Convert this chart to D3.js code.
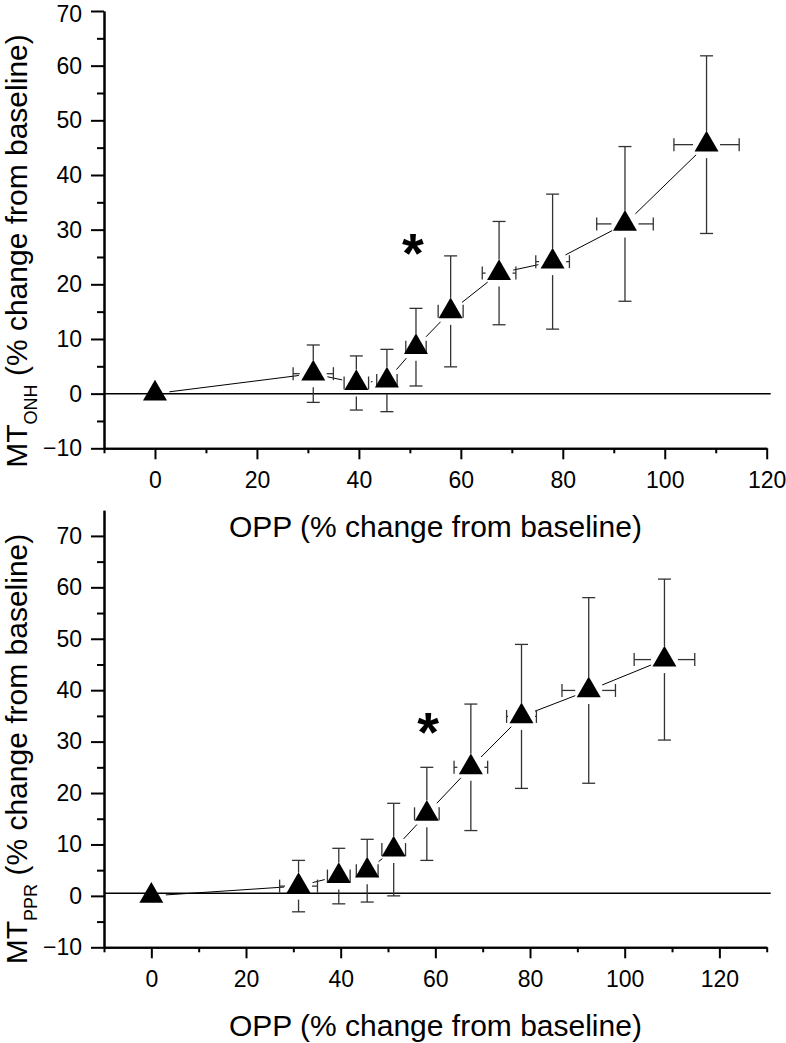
<!DOCTYPE html>
<html><head><meta charset="utf-8">
<script src="https://cdn.jsdelivr.net/npm/d3@7"></script>
<style>
body{margin:0;background:#fff}
svg{display:block}
text{font-family: Arial, "Liberation Sans", sans-serif; fill:#000}
</style>
</head><body><svg id="c" width="786" height="1043"></svg>
<script>
// ---- data ----
const oppTop      = [0, 31.05, 39.5, 45.5, 51.2, 58.0, 67.5, 78.0, 92.2, 108.2];
const oppTopErr   = [0, 3.95, 2.4, 2.0, 2.0, 2.45, 3.3, 3.3, 5.55, 6.4];
const mtOnh       = [0, 3.65, 1.95, 2.4, 8.5, 15.05, 22.05, 24.15, 31.05, 45.55];
const mtOnhErr    = [0, 5.25, 4.95, 5.7, 7.1, 10.15, 9.45, 12.35, 14.15, 16.25];

const oppBottom    = [0, 31.1, 39.6, 45.6, 51.2, 58.2, 67.5, 78.2, 92.4, 108.4];
const oppBottomErr = [0, 4.0, 2.4, 2.3, 2.5, 2.6, 3.55, 3.15, 5.65, 6.4];
const mtPpr        = [0, 1.9, 3.85, 4.9, 9.0, 15.95, 25.0, 34.9, 39.95, 45.95];
const mtPprErr     = [0, 5.0, 5.4, 6.1, 9.0, 9.05, 12.3, 14.0, 18.05, 15.65];

const topXDomain = [-10, 120], topYDomain = [-10, 70];
const botXDomain = [-10, 130], botYDomain = [-10, 75];
const xMajorTicks = [0, 20, 40, 60, 80, 100, 120];
const topXMinor = [-10, 10, 30, 50, 70, 90, 110];
const botXMinor = [-10, 10, 30, 50, 70, 90, 110, 130];
const yMajorTicks = [-10, 0, 10, 20, 30, 40, 50, 60, 70];
const yMinorTicks = [-5, 5, 15, 25, 35, 45, 55, 65];
const topBaseline = 0, botBaseline = 0.5;
const topStar = [50.6, 27.0], botStar = [58.5, 33.2];
const xTitle = "OPP (% change from baseline)";
const yTitleMain = "MT", yTitleRest = " (% change from baseline)";
const topSub = "ONH", botSub = "PPR";

const svg = d3.select('#c');

function panel(cfg){
  const g = svg.append('g');
  const x = d3.scaleLinear().domain(cfg.xDomain).range([104, 766.7]);
  const y = d3.scaleLinear().domain(cfg.yDomain).range([cfg.yB, cfg.yT]);
  const pts = cfg.xs.map((v,i)=>({x:v, y:cfg.ys[i], ex:cfg.exs[i], ey:cfg.eys[i]}));

  // baseline
  g.append('line')
    .attr('x1', x(cfg.xDomain[0])).attr('x2', x(cfg.xDomain[1]) + 4)
    .attr('y1', y(cfg.base)).attr('y2', y(cfg.base))
    .attr('stroke', '#000').attr('stroke-width', 1.5);

  // connecting lines with gaps
  const lgap = 14.5;
  for (let i = 0; i < pts.length - 1; i++){
    const x1 = x(pts[i].x), y1 = y(pts[i].y), x2 = x(pts[i+1].x), y2 = y(pts[i+1].y);
    const L = Math.hypot(x2-x1, y2-y1);
    if (L <= 2*lgap) continue;
    const ux = (x2-x1)/L, uy = (y2-y1)/L;
    g.append('line')
      .attr('x1', x1 + ux*lgap).attr('y1', y1 + uy*lgap)
      .attr('x2', x2 - ux*lgap).attr('y2', y2 - uy*lgap)
      .attr('stroke', '#000').attr('stroke-width', 1);
  }

  // error bars
  const egap = 13.5, cap = 6.5;
  const eb = g.append('g').attr('stroke', '#333').attr('stroke-width', 1.3).attr('fill', 'none');
  pts.forEach(p => {
    const cx = x(p.x), cy = y(p.y);
    if (p.ey > 0){
      const t = y(p.y + p.ey), b = y(p.y - p.ey);
      if (cy - t > egap) eb.append('line').attr('x1', cx).attr('x2', cx).attr('y1', cy - egap).attr('y2', t);
      if (b - cy > egap) eb.append('line').attr('x1', cx).attr('x2', cx).attr('y1', cy + egap).attr('y2', b);
      eb.append('line').attr('x1', cx - cap).attr('x2', cx + cap).attr('y1', t).attr('y2', t);
      eb.append('line').attr('x1', cx - cap).attr('x2', cx + cap).attr('y1', b).attr('y2', b);
    }
    if (p.ex > 0){
      const l = x(p.x - p.ex), r = x(p.x + p.ex);
      if (cx - l > egap) eb.append('line').attr('y1', cy).attr('y2', cy).attr('x1', cx - egap).attr('x2', l);
      if (r - cx > egap) eb.append('line').attr('y1', cy).attr('y2', cy).attr('x1', cx + egap).attr('x2', r);
      eb.append('line').attr('y1', cy - cap).attr('y2', cy + cap).attr('x1', l).attr('x2', l);
      eb.append('line').attr('y1', cy - cap).attr('y2', cy + cap).attr('x1', r).attr('x2', r);
    }
  });

  // markers
  g.selectAll('path.m').data(pts).join('path').attr('class', 'm')
    .attr('d', d3.symbol(d3.symbolTriangle, 249))
    .attr('transform', d => `translate(${x(d.x)},${y(d.y)})`)
    .attr('fill', '#000');

  // star
  g.append('text').attr('x', x(cfg.star[0])).attr('y', y(cfg.star[1]) + 26)
    .attr('text-anchor', 'middle').attr('font-size', 56).attr('font-weight', 'bold').text('*');

  // axes
  const styleAxis = sel => {
    sel.select('.domain').attr('stroke', '#000').attr('stroke-width', 2);
    sel.selectAll('.tick line').attr('stroke', '#000').attr('stroke-width', 2);
    sel.selectAll('.tick text').attr('font-size', 23).attr('fill', '#000')
      .attr('font-family', 'Arial, "Liberation Sans", sans-serif');
  };
  g.append('g').attr('transform', `translate(0,${cfg.yB})`)
    .call(d3.axisBottom(x).tickValues(cfg.xMinor).tickSize(5).tickSizeOuter(0).tickFormat(''))
    .call(styleAxis);
  g.append('g').attr('transform', `translate(0,${cfg.yB})`)
    .call(d3.axisBottom(x).tickValues(xMajorTicks).tickSize(11).tickSizeOuter(0).tickPadding(12).tickFormat(d3.format('d')))
    .call(styleAxis);
  g.append('g').attr('transform', `translate(104,0)`)
    .call(d3.axisLeft(y).tickValues(yMinorTicks).tickSize(7).tickSizeOuter(0).tickFormat(''))
    .call(styleAxis);
  const ya = g.append('g').attr('transform', `translate(104,0)`)
    .call(d3.axisLeft(y).tickValues(yMajorTicks).tickSize(13).tickSizeOuter(0).tickPadding(9).tickFormat(d3.format('d')))
    .call(styleAxis);
  // keep a label that sits at the very top edge inside the page
  ya.selectAll('.tick text').attr('dy', function(){
    const yy = y(d3.select(this.parentNode).datum());
    return yy < 16 ? '0.45em' : '0.32em';
  });

  // x title
  g.append('text').attr('x', 435.4).attr('y', cfg.yB + 89).attr('text-anchor', 'middle')
    .attr('font-size', 30).text(xTitle);

  // y title (rotated), pieces measured and centred
  const tg = g.append('g').attr('transform', `translate(27,${cfg.yTitleC}) rotate(-90)`);
  const t1 = tg.append('text').attr('font-size', 30).text(yTitleMain);
  const w1 = t1.node().getComputedTextLength();
  const sub = tg.append('text').attr('font-size', 18).text(cfg.sub);
  const w2 = sub.node().getComputedTextLength();
  const t3 = tg.append('text').attr('font-size', 30).style('white-space', 'pre').attr('xml:space', 'preserve').text(yTitleRest);
  const w3 = t3.node().getComputedTextLength();
  const x0 = -(w1 + w2 + w3) / 2;
  t1.attr('x', x0);
  sub.attr('x', x0 + w1).attr('y', 10);
  t3.attr('x', x0 + w1 + w2);
}

panel({xDomain: topXDomain, yDomain: topYDomain, yB: 448.3, yT: 11, xs: oppTop, exs: oppTopErr, ys: mtOnh, eys: mtOnhErr,
  xMinor: topXMinor, base: topBaseline, star: topStar, sub: topSub, yTitleC: 251});
panel({xDomain: botXDomain, yDomain: botYDomain, yB: 947.3, yT: 510.2, xs: oppBottom, exs: oppBottomErr, ys: mtPpr, eys: mtPprErr,
  xMinor: botXMinor, base: botBaseline, star: botStar, sub: botSub, yTitleC: 749});
</script>
</body></html>
